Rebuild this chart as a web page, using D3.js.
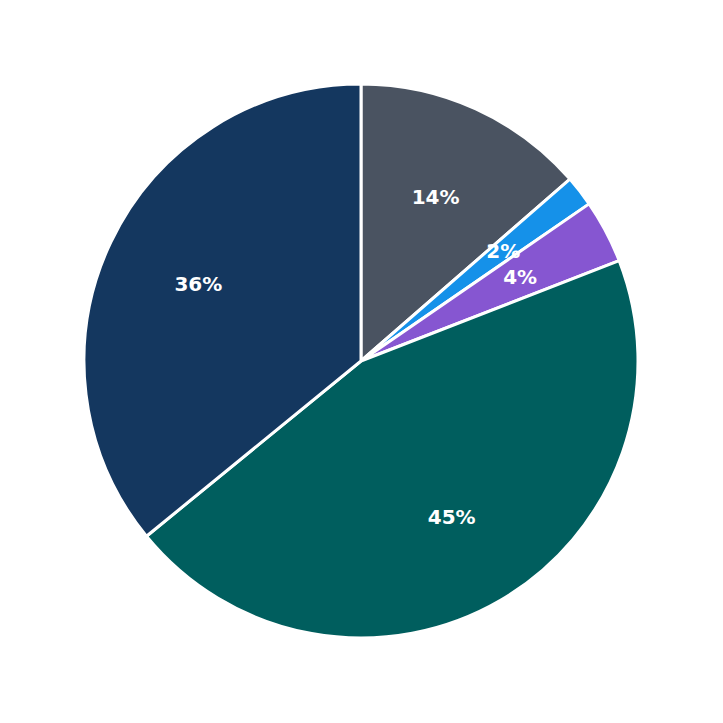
<!DOCTYPE html>
<html>
<head>
<meta charset="utf-8">
<script src="https://cdn.jsdelivr.net/npm/d3@7"></script>
<style>
  body { margin: 0; background: #fff; }
</style>
</head>
<body>
<div id="chart"></div>
<script>
var labels = ["A", "B", "C", "D", "E"];
var values = [13.6, 1.8, 3.7, 45.0, 35.9];
var shown = ["14%", "2%", "4%", "45%", "36%"];
var colors = ["#4a5361", "#1591e9", "#8656d1", "#005e5e", "#14375f"];

var size = 723;
var radius = 277;

var svg = d3.select("#chart").append("svg")
    .attr("width", size)
    .attr("height", size);

var g = svg.append("g")
    .attr("transform", `translate(361, 361)`);

var pie = d3.pie().sort(null).value(d => d);
var arcs = pie(values);

var arc = d3.arc().innerRadius(0).outerRadius(radius);
var labelArc = d3.arc().innerRadius(radius * 0.65).outerRadius(radius * 0.65);

g.selectAll("path")
    .data(arcs)
    .enter()
    .append("path")
    .attr("d", arc)
    .attr("fill", (d, i) => colors[i])
    .attr("stroke", "#fff")
    .attr("stroke-width", 3)
    .attr("stroke-linejoin", "round");

g.selectAll("text")
    .data(arcs)
    .enter()
    .append("text")
    .attr("transform", d => `translate(${labelArc.centroid(d)})`)
    .attr("dy", "0.35em")
    .attr("text-anchor", "middle")
    .attr("fill", "#fff")
    .attr("font-family", "DejaVu Sans")
    .attr("font-weight", "bold")
    .attr("font-size", "20px")
    .text((d, i) => shown[i]);
</script>
</body>
</html>
